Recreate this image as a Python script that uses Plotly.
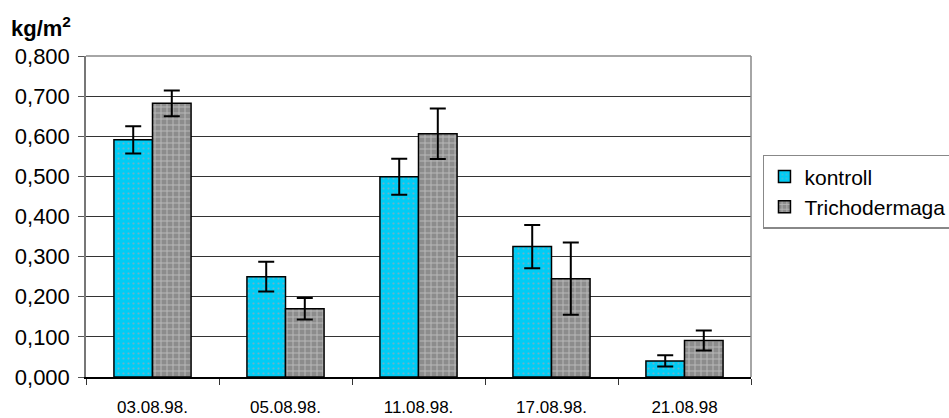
import plotly.graph_objects as go

categories = ["03.08.98.", "05.08.98.", "11.08.98.", "17.08.98.", "21.08.98"]
kontroll = [0.591, 0.250, 0.499, 0.325, 0.040]
kontroll_err = [0.034, 0.037, 0.045, 0.054, 0.014]
tricho = [0.682, 0.170, 0.606, 0.245, 0.091]
tricho_err = [0.032, 0.027, 0.063, 0.090, 0.025]
y_ticks = [0.0, 0.1, 0.2, 0.3, 0.4, 0.5, 0.6, 0.7, 0.8]

FONT = "Liberation Sans, Arial, sans-serif"

fig = go.Figure()
fig.add_trace(go.Bar(
    name="kontroll", x=categories, y=kontroll,
    marker=dict(color="#00CCF5", line=dict(color="black", width=1.5),
                pattern=dict(shape=".", fgcolor="#d89a9a", bgcolor="#00CCF5", size=5, solidity=0.15)),
    error_y=dict(type="data", array=kontroll_err, color="black", thickness=2, width=8),
))
fig.add_trace(go.Bar(
    name="Trichodermaga", x=categories, y=tricho,
    marker=dict(color="#8c8c8c", line=dict(color="black", width=1.5),
                pattern=dict(shape="+", fgcolor="#e6e6e6", bgcolor="#8c8c8c", size=6, solidity=0.3)),
    error_y=dict(type="data", array=tricho_err, color="black", thickness=2, width=8),
))

fig.update_layout(
    width=949, height=418,
    margin=dict(l=86, r=198, t=56, b=41, autoexpand=False),
    paper_bgcolor="white", plot_bgcolor="white",
    barmode="group", bargap=0.42, bargroupgap=0,
    separators=", ",
    font=dict(family=FONT, color="black"),
    showlegend=True,
    legend=dict(x=1.018, y=0.692, xanchor="left", yanchor="top",
                bordercolor="#888888", borderwidth=1.5, itemwidth=30,
                font=dict(size=21, family=FONT), tracegroupgap=4),
)
fig.add_annotation(text="<b>kg/m<sup>2</sup></b>", xref="paper", yref="paper",
                   x=-0.116, y=1.09, xanchor="left", yanchor="middle",
                   showarrow=False, font=dict(size=22, family=FONT))

fig.update_yaxes(range=[0, 0.8], tickvals=y_ticks, tickformat=".3f",
                 showgrid=True, gridcolor="#333333", gridwidth=1.3,
                 ticks="outside", ticklen=6, tickcolor="#555555",
                 showline=True, linecolor="#777777", linewidth=1.5,
                 tickfont=dict(size=22, family=FONT), zeroline=False,
                 automargin=False, ticklabelstandoff=4)
fig.update_xaxes(tickson="boundaries", ticks="outside", ticklen=6, tickcolor="#333333",
                 showline=True, linecolor="black", linewidth=1.5,
                 tickfont=dict(size=17, family=FONT), showgrid=False,
                 automargin=False, ticklabelstandoff=14)

fig.add_shape(type="line", xref="paper", yref="paper", x0=0, x1=1, y0=1, y1=1,
              line=dict(color="#888888", width=1.5))
fig.add_shape(type="line", xref="paper", yref="paper", x0=1, x1=1, y0=0, y1=1,
              line=dict(color="#888888", width=1.5))

fig.write_html("out.html", config={"displayModeBar": False},
               post_script="document.body.style.margin='0';document.body.style.overflow='hidden';")
